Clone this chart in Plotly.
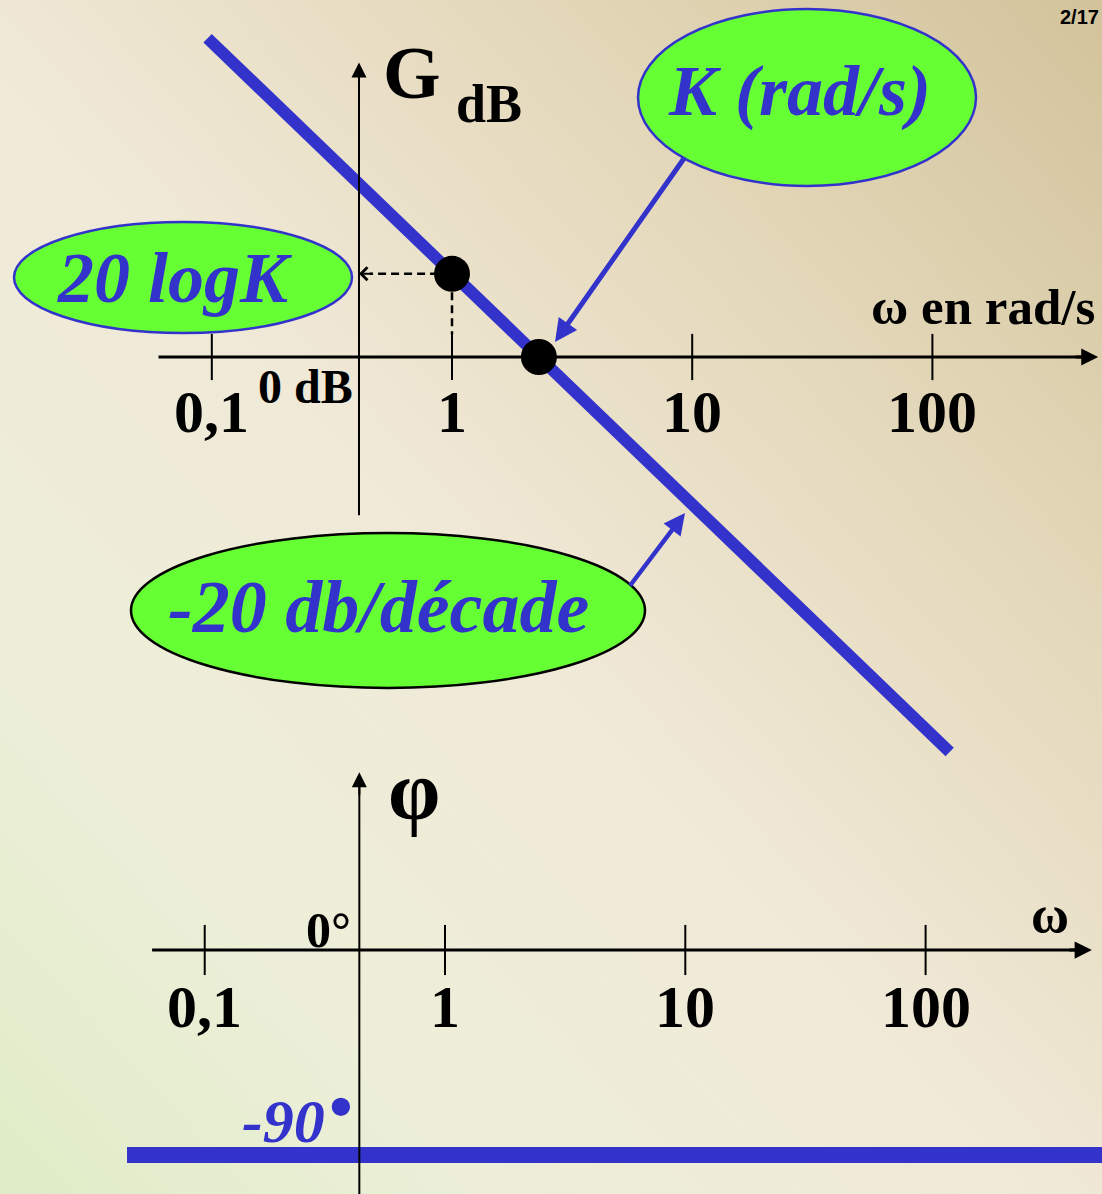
import base64
import math

import plotly.graph_objects as go

W, H = 1102, 1194

# ---------------------------------------------------------------- data
omega_ticks = [0.1, 1, 10, 100]                # rad/s
omega_tick_labels = ["0,1", "1", "10", "100"]

K = 2.3                                        # gain crossover (rad/s)
gain_omega = [0.096, 118]                      # asymptote end points (rad/s)
gain_db = [27.6, -34.2]                        # -20 dB/decade through (K, 0 dB)
marked_omega = [1, K]                          # ω = 1 and ω = K
marked_gain_db = [7.2, 0]                      # 20 log K, then 0 dB

phase_omega = [0.0475, 1000]                   # rad/s
phase_deg = [-90, -90]                         # constant phase of an integrator

# ---------------------------------------------------------------- styling
BLUE = "#3333cc"
GREEN = "#66ff33"
SERIF = "Liberation Serif"

# axis geometry (in data units of each diagram)
GAIN_AXIS_OMEGA = (0.06, 445, 490)      # start, line end, arrow tip
GAIN_VAXIS_OMEGA = 0.41
GAIN_VAXIS_DB = (-13.7, 24.7, 25.5)
GAIN_TICK_DB = 2.0
GAIN_LABEL_DB = -4.8

PHASE_AXIS_OMEGA = (0.0604, 448, 492)
PHASE_VAXIS_OMEGA = 0.44
PHASE_VAXIS_DEG = (-115, 73.7, 78)
PHASE_TICK_DEG = 11
PHASE_LABEL_DEG = -25


def px_x(x):
    return x / W


def px_y(y):
    return 1 - y / H


def lg(v):
    return math.log10(v)


# soft slide background
bg_svg = f"""<svg xmlns="http://www.w3.org/2000/svg" width="{W}" height="{H}" viewBox="0 0 {W} {H}" preserveAspectRatio="none">
<defs>
<linearGradient id="g" x1="1" y1="0" x2="0" y2="1">
<stop offset="0" stop-color="#d2c39b"/>
<stop offset="0.28" stop-color="#e5d9bc"/>
<stop offset="0.52" stop-color="#f0e9d7"/>
<stop offset="0.78" stop-color="#edefd9"/>
<stop offset="1" stop-color="#dfecc6"/>
</linearGradient>
</defs>
<rect width="100%" height="100%" fill="url(#g)"/>
</svg>"""
bg_uri = "data:image/svg+xml;base64," + base64.b64encode(bg_svg.encode()).decode()

fig = go.Figure()

# ---------------------------------------------------------------- gain diagram
fig.add_trace(go.Scatter(x=gain_omega, y=gain_db, mode="lines",
                         line=dict(color=BLUE, width=12), xaxis="x", yaxis="y"))

fig.add_trace(go.Scatter(x=[GAIN_AXIS_OMEGA[0], GAIN_AXIS_OMEGA[1]], y=[0, 0], mode="lines",
                         line=dict(color="black", width=3), xaxis="x", yaxis="y"))
fig.add_trace(go.Scatter(x=[GAIN_VAXIS_OMEGA, GAIN_VAXIS_OMEGA],
                         y=[GAIN_VAXIS_DB[0], GAIN_VAXIS_DB[1]], mode="lines",
                         line=dict(color="black", width=2), xaxis="x", yaxis="y"))

tx, ty = [], []
for w in omega_ticks:
    tx += [w, w, None]
    ty += [GAIN_TICK_DB, -GAIN_TICK_DB, None]
fig.add_trace(go.Scatter(x=tx, y=ty, mode="lines", line=dict(color="black", width=2),
                         xaxis="x", yaxis="y"))

# dashed read-out of 20 log K
fig.add_trace(go.Scatter(x=[0.875, 0.455], y=[marked_gain_db[0]] * 2, mode="lines",
                         line=dict(color="black", width=2.5, dash="8px,5px"),
                         xaxis="x", yaxis="y"))
fig.add_trace(go.Scatter(x=[marked_omega[0]] * 2, y=[5.6, GAIN_TICK_DB], mode="lines",
                         line=dict(color="black", width=2.5, dash="8px,5px"),
                         xaxis="x", yaxis="y"))

fig.add_trace(go.Scatter(x=marked_omega, y=marked_gain_db, mode="markers",
                         marker=dict(color="black", size=36), xaxis="x", yaxis="y"))

# ---------------------------------------------------------------- phase diagram
fig.add_trace(go.Scatter(x=phase_omega, y=phase_deg, mode="lines",
                         line=dict(color=BLUE, width=16), xaxis="x2", yaxis="y2"))

fig.add_trace(go.Scatter(x=[PHASE_AXIS_OMEGA[0], PHASE_AXIS_OMEGA[1]], y=[0, 0], mode="lines",
                         line=dict(color="black", width=3), xaxis="x2", yaxis="y2"))
fig.add_trace(go.Scatter(x=[PHASE_VAXIS_OMEGA, PHASE_VAXIS_OMEGA],
                         y=[PHASE_VAXIS_DEG[0], PHASE_VAXIS_DEG[1]], mode="lines",
                         line=dict(color="black", width=2), xaxis="x2", yaxis="y2"))

tx, ty = [], []
for w in omega_ticks:
    tx += [w, w, None]
    ty += [PHASE_TICK_DEG, -PHASE_TICK_DEG, None]
fig.add_trace(go.Scatter(x=tx, y=ty, mode="lines", line=dict(color="black", width=2),
                         xaxis="x2", yaxis="y2"))

# ---------------------------------------------------------------- callout ellipses
ellipses = [
    dict(x0=14, x1=352, y0=222, y1=333, line=BLUE),
    dict(x0=638, x1=976, y0=9, y1=186, line=BLUE),
    dict(x0=131, x1=645, y0=533, y1=688, line="black"),
]
for e in ellipses:
    fig.add_shape(type="circle", xref="paper", yref="paper",
                  x0=px_x(e["x0"]), x1=px_x(e["x1"]), y0=px_y(e["y1"]), y1=px_y(e["y0"]),
                  fillcolor=GREEN, line=dict(color=e["line"], width=2.5), layer="above")

# ---------------------------------------------------------------- annotations
ann = []


def bold(size, color="black", italic=False, family=SERIF):
    f = dict(family=family, size=size, color=color, weight="bold")
    if italic:
        f["style"] = "italic"
    return f


# tick labels
for w, lab in zip(omega_ticks, omega_tick_labels):
    ann.append(dict(x=lg(w), y=GAIN_LABEL_DB, xref="x", yref="y", text=lab,
                    showarrow=False, font=bold(60), xanchor="center", yanchor="middle"))
    ann.append(dict(x=lg(w), y=PHASE_LABEL_DEG, xref="x2", yref="y2", text=lab,
                    showarrow=False, font=bold(60), xanchor="center", yanchor="middle"))

# axis arrow heads
ann += [
    dict(x=lg(GAIN_AXIS_OMEGA[2]), y=0, xref="x", yref="y", ax=-24, ay=0, text="",
         showarrow=True, arrowhead=2, arrowwidth=3, arrowsize=1.13, arrowcolor="black"),
    dict(x=lg(GAIN_VAXIS_OMEGA), y=GAIN_VAXIS_DB[2], xref="x", yref="y", ax=0, ay=24, text="",
         showarrow=True, arrowhead=2, arrowwidth=2, arrowsize=1.5, arrowcolor="black"),
    dict(x=lg(PHASE_AXIS_OMEGA[2]), y=0, xref="x2", yref="y2", ax=-24, ay=0, text="",
         showarrow=True, arrowhead=2, arrowwidth=3, arrowsize=1.15, arrowcolor="black"),
    dict(x=lg(PHASE_VAXIS_OMEGA), y=PHASE_VAXIS_DEG[2], xref="x2", yref="y2", ax=0, ay=24, text="",
         showarrow=True, arrowhead=2, arrowwidth=2, arrowsize=1.5, arrowcolor="black"),
    # head of the dashed 20 log K read-out
    dict(x=lg(GAIN_VAXIS_OMEGA), y=marked_gain_db[0], xref="x", yref="y", ax=14, ay=0, text="",
         showarrow=True, arrowhead=4, arrowwidth=2, arrowsize=1.25, arrowcolor="black"),
]

# callout pointers
ann += [
    dict(x=px_x(555), y=px_y(342), xref="paper", yref="paper", ax=130, ay=-185, text="",
         showarrow=True, arrowhead=2, arrowwidth=5, arrowsize=0.9, arrowcolor=BLUE),
    dict(x=px_x(685), y=px_y(513), xref="paper", yref="paper", ax=-56, ay=74, text="",
         showarrow=True, arrowhead=2, arrowwidth=4.5, arrowsize=0.95, arrowcolor=BLUE),
]


def label(x, y, text, font, xanchor="center"):
    ann.append(dict(x=px_x(x), y=px_y(y), xref="paper", yref="paper", text=text,
                    showarrow=False, font=font, xanchor=xanchor, yanchor="middle"))


label(412, 73, "G", bold(74))
label(489, 104, "dB", bold(54))
label(1097, 307, "ω en rad/s", bold(51), xanchor="right")
label(305, 386, "0 dB", bold(48))
label(175, 278, "20 logK", bold(72, BLUE, True))
label(799, 91, "K (rad/s)", bold(72, BLUE, True))
label(378, 607, "-20 db/décade", bold(74, BLUE, True))
label(1101, 17, "2/17", bold(20, family="Liberation Sans"), xanchor="right")

label(414, 790, "φ", bold(84))
label(353, 930, "0°", bold(50), xanchor="right")
label(1050, 914, "ω", bold(52))
label(327, 1121, "-90", bold(62, BLUE, True), xanchor="right")
label(341, 1106, "•", bold(68, BLUE))

fig.update_layout(
    width=W, height=H,
    margin=dict(l=0, r=0, t=0, b=0),
    paper_bgcolor="#ece6d0",
    plot_bgcolor="rgba(0,0,0,0)",
    showlegend=False,
    xaxis=dict(type="log", range=[-1.8818, 2.7061], visible=False, domain=[0, 1], anchor="y"),
    yaxis=dict(range=[-72.47, 30.91], visible=False, domain=[0, 1], anchor="x"),
    xaxis2=dict(type="log", range=[-1.8519, 2.7341], visible=False, domain=[0, 1], anchor="y2"),
    yaxis2=dict(range=[-107.11, 417.03], visible=False, domain=[0, 1], anchor="x2"),
    annotations=ann,
    images=[dict(source=bg_uri, xref="paper", yref="paper", x=0, y=1, sizex=1, sizey=1,
                 sizing="stretch", xanchor="left", yanchor="top", layer="below")],
)

fig.write_html("out.html", config={"displayModeBar": False})
